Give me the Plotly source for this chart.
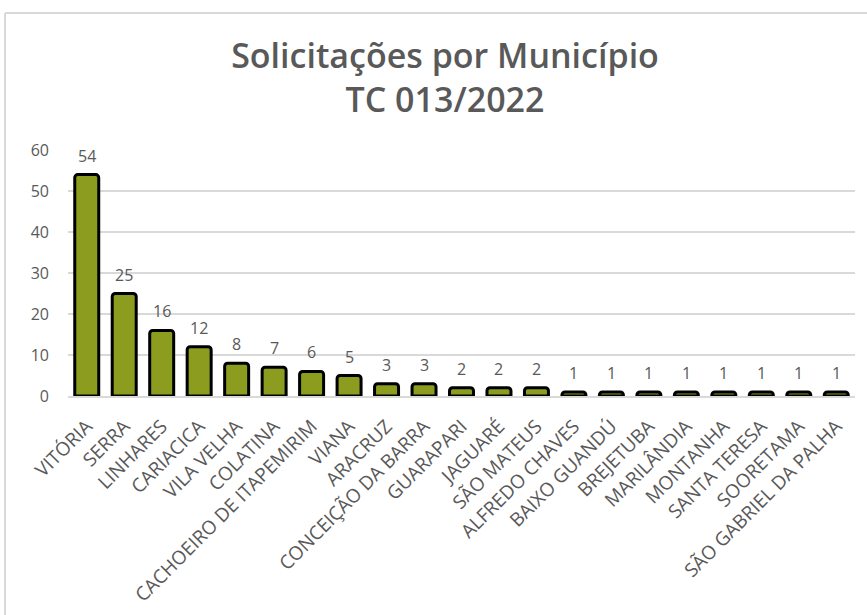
import plotly.graph_objects as go

categories = ["VITÓRIA", "SERRA", "LINHARES", "CARIACICA", "VILA VELHA", "COLATINA",
              "CACHOEIRO DE ITAPEMIRIM", "VIANA", "ARACRUZ", "CONCEIÇÃO DA BARRA",
              "GUARAPARI", "JAGUARÉ", "SÃO MATEUS", "ALFREDO CHAVES", "BAIXO GUANDÚ",
              "BREJETUBA", "MARILÂNDIA", "MONTANHA", "SANTA TERESA", "SOORETAMA",
              "SÃO GABRIEL DA PALHA"]
values = [54, 25, 16, 12, 8, 7, 6, 5, 3, 3, 2, 2, 2, 1, 1, 1, 1, 1, 1, 1, 1]
y_ticks = [0, 10, 20, 30, 40, 50, 60]

W, H = 867, 615
L, R, T, B = 68, 12, 150, 219
pw, ph = W - L - R, H - T - B

gray = "#595959"
font_family = "'Open Sans', Lato, sans-serif"


def px_x(p):
    return (p - L) / pw


def px_y(p):
    return (H - B - p) / ph


fig = go.Figure(go.Bar(
    x=categories, y=values,
    marker=dict(color="#8b9c1f", line=dict(color="#000000", width=3), cornerradius=3),
    cliponaxis=False, hoverinfo="x+y",
))

annotations = [dict(x=c, y=v, text=str(v), xref="x", yref="y", showarrow=False,
                    yanchor="bottom", yshift=6,
                    font=dict(color=gray, size=16, family=font_family))
               for c, v in zip(categories, values)]

frame = dict(color="#d9d9d9", width=2)
fig.update_layout(
    width=W, height=H,
    margin=dict(l=L, r=R, t=T, b=B, autoexpand=False),
    paper_bgcolor="white", plot_bgcolor="white",
    bargap=0.36,
    showlegend=False,
    title=dict(
        text="Solicitações por Município<br>TC 013/2022",
        x=445 / W, xanchor="center", y=1 - 68 / H, yanchor="top",
        font=dict(family=font_family, size=34, color=gray, weight=600),
    ),
    xaxis=dict(tickangle=-45, tickfont=dict(color=gray, size=19, family=font_family),
               showgrid=False, showline=True, linecolor="#d9d9d9", linewidth=1.5,
               ticks="", ticklabelstandoff=10, automargin=False),
    yaxis=dict(range=[0, 60], tickvals=y_ticks, showgrid=True, gridcolor="#d9d9d9",
               gridwidth=1.5, zeroline=False, showline=False, ticks="",
               tickfont=dict(color=gray, size=16, family=font_family), ticklabelstandoff=18,
               automargin=False),
    annotations=annotations,
    shapes=[
        dict(type="line", xref="paper", yref="paper", x0=px_x(5), x1=px_x(W + 10),
             y0=px_y(13), y1=px_y(13), line=frame, layer="above"),
        dict(type="line", xref="paper", yref="paper", x0=px_x(5), x1=px_x(5),
             y0=px_y(13), y1=px_y(H + 10), line=frame, layer="above"),
    ],
)

fig.write_html("out.html", config={"displayModeBar": False},
               post_script="document.body.style.margin='0';document.body.style.overflow='hidden';")
